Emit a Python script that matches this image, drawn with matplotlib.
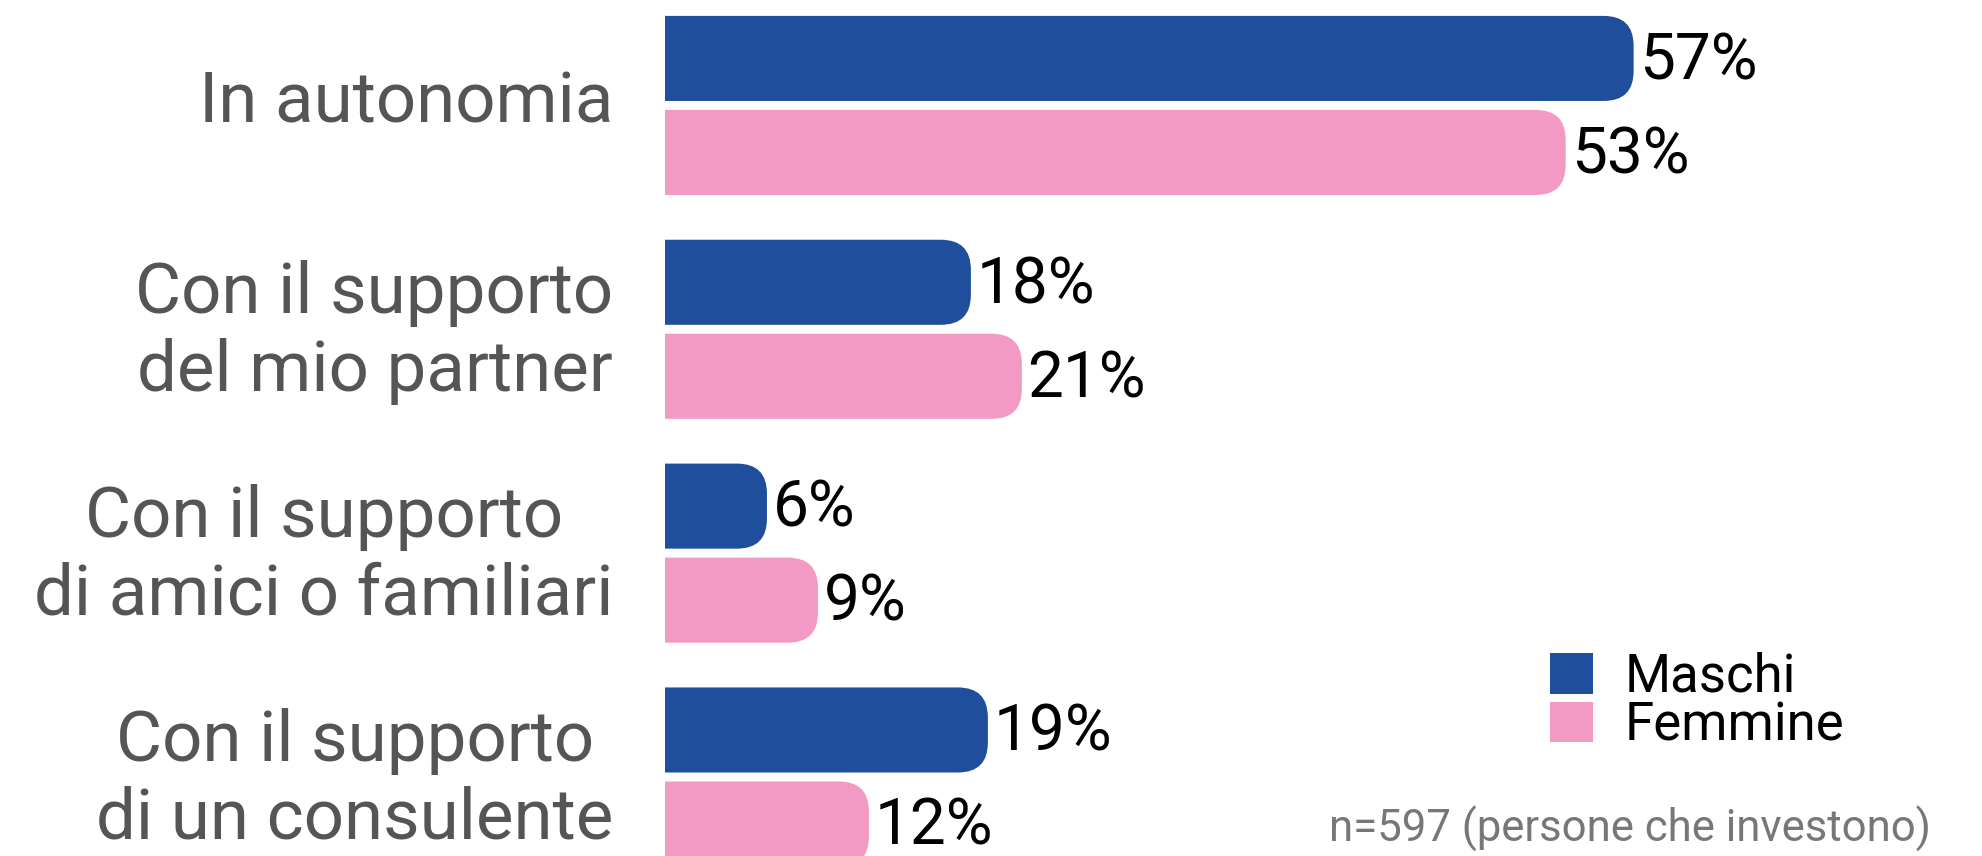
import matplotlib
matplotlib.use("Agg")
import matplotlib.pyplot as plt
from matplotlib.patches import FancyBboxPatch, Patch

plt.rcParams['font.family'] = ['Roboto', 'DejaVu Sans']

categorie = ["In autonomia",
             "Con il supporto\ndel mio partner",
             "Con il supporto\ndi amici o familiari",
             "Con il supporto\ndi un consulente"]
maschi = [57, 18, 6, 19]
femmine = [53, 21, 9, 12]
serie = ["Maschi", "Femmine"]
nota = "n=597 (persone che investono)"

col_m = '#1F4F9C'
col_f = '#F39AC4'

W, H = 1982, 856
fig = plt.figure(figsize=(W / 100, H / 100), dpi=100)
ax = fig.add_axes([665 / W, 0, 1 - 665 / W, 1])
ax.set_xlim(0, 77.5)
ax.set_ylim(3.353, -0.471)
for s in ax.spines.values():
    s.set_visible(False)
ax.set_xticks([])

pos = list(range(len(categorie)))
h = 0.38
off = 0.21
bm = ax.barh([p - off for p in pos], maschi, height=h, color=col_m)
bf = ax.barh([p + off for p in pos], femmine, height=h, color=col_f)

# barre con angoli arrotondati a destra
p0 = ax.transData.transform((0, 0))
p1 = ax.transData.transform((1, 1))
sx, sy = abs(p1[0] - p0[0]), abs(p1[1] - p0[1])
r = 30 / sx
asp = sx / sy
for cont, col in [(bm, col_m), (bf, col_f)]:
    for rect in cont:
        x0, y0 = rect.get_x(), rect.get_y()
        w, hh = rect.get_width(), rect.get_height()
        fb = FancyBboxPatch((x0 - 5, y0), w + 5, hh,
                            boxstyle=f"round,pad=0,rounding_size={r}",
                            mutation_aspect=asp, fc=col, ec='none')
        ax.add_patch(fb)
        rect.set_visible(False)

for vals, sgn in [(maschi, -1), (femmine, 1)]:
    for p, v in zip(pos, vals):
        ax.annotate(f"{v}%", xy=(v, p + sgn * off), xytext=(4, -2),
                    textcoords='offset points', ha='left', va='center',
                    fontsize=46, color='black')

ax.set_yticks([p - 0.04 for p in pos])
ax.set_yticklabels(categorie, fontsize=51, color='#555555')
for t in ax.get_yticklabels():
    t.set_multialignment('center')
ax.tick_params(axis='y', length=0, pad=37)

handles = [Patch(fc=col_m, ec='none'), Patch(fc=col_f, ec='none')]
ax.legend(handles, serie, loc='upper left',
          bbox_to_anchor=(1550 / W, 1 - 652 / H), bbox_transform=fig.transFigure,
          frameon=False, fontsize=38, handlelength=0.81, handleheight=0.81,
          handletextpad=0.6, labelspacing=-0.05, borderpad=0, borderaxespad=0)

fig.text(1931 / W, (H - 842) / H, nota, ha='right', va='baseline',
         fontsize=31.5, color='#777777')

fig.savefig("out.png", dpi=100, facecolor='white')
